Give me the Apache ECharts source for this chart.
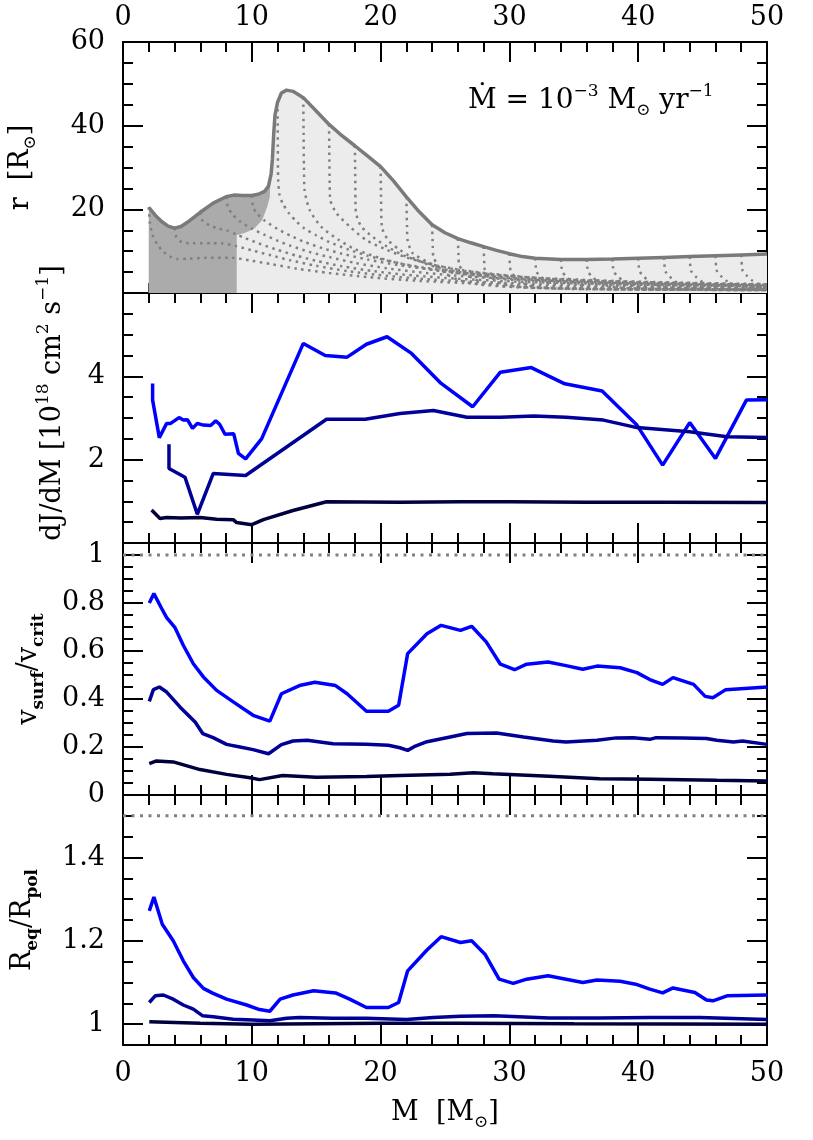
<!DOCTYPE html>
<html>
<head>
<meta charset="utf-8">
<title>Accretion models</title>
<script src="https://cdn.jsdelivr.net/npm/echarts@6/dist/echarts.min.js"></script>
<style>
  html, body { margin: 0; padding: 0; background: #fff; }
  #chart { width: 813px; height: 1140px; }
</style>
</head>
<body>
<div id="chart"></div>
<script>
// tick labels
var massLabels = [0, 10, 20, 30, 40, 50];
var radiusLabels = [20, 40, 60];
var djLabels = [2, 4];
var vLabels = [0, 0.2, 0.4, 0.6, 0.8, 1];
var vTicks = [0, 0.2, 0.4, 0.6, 0.8, 1];
var ratioLabels = [1, 1.2, 1.4];
var ratioTicks = [1, 1.2, 1.4];

// panel 1: stellar surface radius r(M)
var surfaceRadius = [[2, 20.5], [2.5, 18.6], [3, 17.1], [3.5, 16], [4, 15.5], [4.5, 15.9], [5, 16.9], [6, 19.3],
  [7, 21.5], [8, 23], [8.6, 23.4], [9.3, 23.3], [10, 23.3], [10.5, 23.6], [11, 24.3], [11.3, 25.6],
  [11.5, 28.5], [11.6, 32], [11.7, 38], [11.8, 42.5], [12, 45.6], [12.3, 47.8], [12.7, 48.5], [13.2, 48.2],
  [14, 46.7], [15, 43.5], [16, 40.3], [17, 37.6], [18, 35.2], [19, 32.7], [20, 30.2], [21, 26.8], [22, 23],
  [23, 19.4], [24, 16.3], [25, 14.4], [26, 13], [27, 12], [28, 11.1], [29, 10.2], [30, 9.4], [31, 8.7],
  [32, 8.3], [34, 8], [36, 8], [38, 8.1], [40, 8.3], [42, 8.5], [44, 8.7], [46, 8.9], [48, 9.1], [50, 9.3]];

// dark grey core region (outline)
var coreEdge = [[2, 0], [2, 20.5], [2.5, 18.6], [3, 17.1], [3.5, 16], [4, 15.5], [4.5, 15.9], [5, 16.9],
  [6, 19.3], [7, 21.5], [8, 23], [8.6, 23.4], [9.3, 23.3], [10, 23.3], [10.5, 23.6], [11, 24.3],
  [11.3, 25.6], [11.45, 27.5], [11.4, 23], [11.2, 20.6], [10.8, 17.4], [10.2, 15.4], [9.6, 14.5],
  [8.83, 13.8], [8.83, 0]];

// dotted iso-mass lines
var isoMass = [
  [[2, 20.5], [2.1, 16.5], [2.35, 13.4], [2.7, 11.5], [3.05, 10.1], [3.6, 8.8], [4.2, 8.1], [5, 8.2], [6.5, 8.4], [8.4, 8.4], [10, 7.7], [11.5, 6.9], [13.5, 5.8], [16, 4.8], [19, 3.8], [23, 2.9], [28, 2.2], [35, 1.6], [50, 1.1]],
  [[4, 15.5], [4.15, 13.3], [4.6, 12.1], [5.4, 11.9], [6.8, 11.9], [7.6, 11.9], [8.8, 11.2], [10, 10.2], [11.5, 9], [13, 7.8], [15, 6.5], [17.5, 5.2], [20.5, 4.1], [24, 3.2], [29, 2.5], [36, 1.9], [50, 1.4]],
  [[6, 19.3], [6.15, 17.4], [6.7, 16.2], [7.4, 15.4], [8.1, 14.9], [8.8, 14], [9.5, 13.1], [10.5, 11.9], [12, 10.3], [13.5, 8.9], [15, 7.7], [17, 6.4], [19.5, 5.2], [22.5, 4.2], [26, 3.4], [31, 2.7], [38, 2.1], [50, 1.6]],
  [[8, 23], [8.15, 20.6], [8.5, 18.8], [9.1, 17.1], [10, 15.4], [11, 13.9], [12, 12.5], [13, 11.3], [14.5, 9.8], [16, 8.6], [18, 7.2], [20.5, 5.9], [23.5, 4.8], [27, 3.9], [32, 3.1], [39, 2.4], [50, 1.9]],
  [[10, 23.3], [10.1, 20.6], [10.4, 19], [11, 17.3], [12, 15.3], [13, 13.7], [14, 12.3], [15.5, 10.7], [17, 9.4], [19, 8], [21.5, 6.6], [24.5, 5.4], [28, 4.4], [33, 3.5], [40, 2.7], [50, 2.1]],
  [[12, 45.6], [12.02, 35], [12.05, 27], [12.15, 23.5], [12.4, 21.4], [12.9, 19], [13.5, 17], [14.1, 15.4], [15, 13.8], [16, 12.2], [17.5, 10.4], [19, 8.9], [21, 7.4], [23.5, 6], [26.5, 4.9], [30, 4], [35, 3.1], [42, 2.5], [50, 2]],
  [[14, 46.7], [14.02, 38], [14.05, 30], [14.1, 24.6], [14.5, 19.8], [15.4, 15.8], [16.7, 12.8], [18, 10.5], [20, 8.3], [22, 6.7], [24.5, 5.3], [27.5, 4.2], [31, 3.3], [36, 2.6], [43, 2.1], [50, 1.8]],
  [[16, 40.3], [16.02, 32], [16.05, 26], [16.1, 22.2], [16.6, 19], [17.6, 15.9], [18.9, 12.6], [20.5, 10.3], [22, 8.5], [24, 6.8], [26.5, 5.4], [29.5, 4.3], [33, 3.4], [38, 2.7], [44, 2.2], [50, 1.9]],
  [[18, 35.2], [18.03, 28], [18.05, 22], [18.1, 19], [18.5, 15.9], [19.4, 13.4], [20.5, 11.1], [22, 8.7], [24, 6.8], [26.5, 5.3], [29.5, 4.2], [33, 3.3], [38, 2.6], [44, 2.1], [50, 1.8]],
  [[20, 30.2], [20.03, 24], [20.1, 15.8], [20.6, 12.6], [21.5, 10.3], [22.8, 7.9], [24.6, 5.9], [27, 4.6], [30, 3.6], [34, 2.8], [40, 2.2], [50, 1.7]],
  [[22, 23], [22.05, 16], [22.1, 12.6], [22.5, 9.5], [23.6, 7.5], [24.9, 5.5], [27, 4.2], [30, 3.2], [34, 2.5], [40, 1.9], [50, 1.5]],
  [[24, 16.3], [24.05, 11], [24.1, 8.7], [24.5, 6.3], [25.2, 4.3], [26.2, 3], [27.5, 2.1], [30, 1.5], [36, 1.1], [50, 0.8]],
  [[26, 13], [26.05, 9], [26.1, 6.7], [26.5, 5], [27.1, 3.6], [27.9, 2.5], [29.2, 1.7], [32, 1.2], [39, 0.9], [50, 0.7]],
  [[28, 11.1], [28.05, 7], [28.1, 5.5], [28.45, 4.2], [28.9, 3], [29.6, 2], [31, 1.4], [35, 1], [50, 0.7]],
  [[30, 9.4], [30.05, 6.3], [30.12, 5.1], [30.45, 3.9], [30.85, 2.8], [31.4, 1.9], [32.5, 1.3], [36, 0.9], [50, 0.7]],
  [[32, 8.3], [32.05, 6.2], [32.12, 5], [32.45, 3.9], [32.85, 2.8], [33.4, 1.9], [34.5, 1.3], [38, 0.9], [50, 0.7]],
  [[34, 8], [34.05, 6.1], [34.12, 5], [34.45, 3.8], [34.85, 2.8], [35.4, 1.9], [36.5, 1.3], [40, 0.9], [50, 0.75]],
  [[36, 8], [36.05, 6.1], [36.12, 5], [36.45, 3.8], [36.85, 2.8], [37.4, 1.9], [38.5, 1.3], [42, 0.9], [50, 0.75]],
  [[38, 8.1], [38.05, 6.1], [38.12, 5], [38.45, 3.9], [38.85, 2.8], [39.4, 1.9], [40.5, 1.3], [44, 0.9], [50, 0.8]],
  [[40, 8.3], [40.05, 6.2], [40.12, 5.1], [40.45, 3.9], [40.85, 2.8], [41.4, 1.9], [42.5, 1.3], [46, 0.9], [50, 0.8]],
  [[42, 8.5], [42.05, 6.3], [42.12, 5.1], [42.45, 3.9], [42.85, 2.8], [43.4, 1.9], [44.5, 1.3], [48, 0.9], [50, 0.85]],
  [[44, 8.7], [44.05, 6.3], [44.12, 5.2], [44.45, 4], [44.85, 2.9], [45.4, 2], [46.5, 1.4], [50, 1]],
  [[46, 8.9], [46.05, 6.4], [46.12, 5.2], [46.45, 4], [46.85, 2.9], [47.4, 2], [48.5, 1.4], [50, 1.2]],
  [[48, 9.1], [48.05, 6.5], [48.12, 5.3], [48.45, 4.1], [48.85, 3], [49.4, 2.1], [50, 1.7]]
];

// panel 2: dJ/dM
var djFast = [[2.3, 3.83], [2.3, 3.43], [2.82, 2.53], [3.39, 2.87], [3.7, 2.87], [4.35, 3.01], [4.68, 2.95],
  [5.0, 2.96], [5.4, 2.75], [5.77, 2.87], [6.24, 2.83], [6.8, 2.82], [7.2, 2.93], [7.5, 2.85], [7.92, 2.61],
  [8.6, 2.62], [8.96, 2.15], [9.52, 2.02], [10.76, 2.5], [14.0, 4.79], [15.7, 4.5], [17.4, 4.46], [18.9, 4.77],
  [20.5, 4.95], [22.4, 4.55], [24.7, 3.83], [27.15, 3.27], [29.3, 4.1], [31.7, 4.21], [34.3, 3.82], [37.2, 3.65],
  [39.9, 2.83], [41.9, 1.87], [44.0, 2.89], [46.0, 2.03], [48.4, 3.43], [50, 3.44]];
var djMid = [[3.57, 2.37], [3.57, 1.79], [4.81, 1.58], [5.77, 0.69], [7.01, 1.67], [9.52, 1.62], [15.8, 2.97],
  [18.8, 2.97], [21.5, 3.11], [24.1, 3.18], [26.7, 3.02], [29.3, 3.02], [31.9, 3.05], [34.4, 3.02], [37.3, 2.95],
  [39.9, 2.77], [44, 2.67], [46.9, 2.55], [50, 2.53]];
var djSlow = [[2.22, 0.79], [2.87, 0.59], [3.39, 0.61], [4.5, 0.6], [5.98, 0.61], [7.27, 0.57], [8.56, 0.56],
  [8.82, 0.49], [10.0, 0.44], [10.9, 0.56], [13.2, 0.78], [15.8, 0.99], [21.5, 0.98], [26.2, 0.99], [30, 0.99],
  [36, 0.98], [42, 0.98], [50, 0.97]];

// panel 3: v_surf / v_crit
var vFast = [[2.04, 0.8], [2.4, 0.839], [3.0, 0.777], [3.39, 0.739], [4.04, 0.697], [4.68, 0.624], [5.46, 0.547],
  [6.24, 0.492], [7.27, 0.436], [8.56, 0.388], [10.1, 0.332], [11.4, 0.308], [12.3, 0.422], [13.7, 0.456],
  [14.9, 0.47], [16.5, 0.456], [17.4, 0.422], [18.9, 0.349], [20.6, 0.349], [21.4, 0.374], [22.1, 0.589],
  [23.6, 0.672], [24.7, 0.707], [26.2, 0.686], [27.07, 0.703], [28.2, 0.638], [29.3, 0.545], [30.4, 0.522],
  [31.34, 0.545], [33.0, 0.554], [34.3, 0.54], [35.7, 0.524], [36.8, 0.537], [38.6, 0.53], [39.9, 0.51],
  [40.9, 0.481], [41.9, 0.461], [42.7, 0.489], [44.3, 0.461], [45.2, 0.411], [45.8, 0.405], [46.8, 0.439],
  [50, 0.45]];
var vMid = [[2.04, 0.39], [2.36, 0.439], [2.82, 0.45], [3.39, 0.429], [4.42, 0.367], [5.6, 0.304], [6.19, 0.256],
  [7.0, 0.239], [8.04, 0.211], [9.08, 0.2], [10.1, 0.189], [11.3, 0.172], [12.3, 0.21], [13.2, 0.225],
  [14.3, 0.228], [16.3, 0.214], [18.9, 0.211], [20.6, 0.207], [21.5, 0.197], [22.1, 0.186], [22.7, 0.204],
  [23.6, 0.222], [25.4, 0.242], [26.7, 0.256], [29.0, 0.258], [31.1, 0.242], [33.4, 0.225], [34.4, 0.221],
  [36.8, 0.228], [38.3, 0.238], [39.6, 0.239], [40.9, 0.232], [41.4, 0.239], [43.5, 0.238], [45.3, 0.235],
  [46.1, 0.228], [47.4, 0.221], [48.1, 0.225], [50, 0.211]];
var vSlow = [[2.04, 0.131], [2.6, 0.142], [3.9, 0.138], [5.98, 0.106], [8.04, 0.086], [9.86, 0.072], [10.6, 0.064],
  [12.4, 0.081], [15.0, 0.074], [18.9, 0.077], [21.5, 0.081], [25.4, 0.086], [27.2, 0.093], [28.7, 0.089],
  [33.1, 0.078], [37, 0.068], [40.9, 0.066], [46.1, 0.061], [50, 0.058]];
var vCritLine = [[0, 1], [50, 1]];

// panel 4: R_eq / R_pol
var ratioFast = [[2.04, 1.272], [2.4, 1.305], [3.05, 1.24], [3.9, 1.2], [4.68, 1.152], [5.46, 1.112], [6.24, 1.086],
  [7.0, 1.074], [8.04, 1.06], [9.6, 1.046], [10.6, 1.035], [11.4, 1.031], [12.2, 1.06], [13.2, 1.07], [14.8, 1.08],
  [16.5, 1.075], [17.6, 1.06], [18.9, 1.04], [20.6, 1.04], [21.4, 1.052], [22.1, 1.128], [23.6, 1.178], [24.7, 1.21],
  [26.2, 1.196], [27.07, 1.2], [28.1, 1.168], [29.2, 1.108], [30.3, 1.098], [31.34, 1.108], [33.0, 1.116],
  [34.4, 1.108], [35.7, 1.1], [36.8, 1.106], [38.6, 1.103], [39.8, 1.096], [40.9, 1.084], [41.9, 1.075],
  [42.7, 1.087], [44.4, 1.076], [45.3, 1.058], [45.8, 1.056], [46.9, 1.068], [50, 1.07]];
var ratioMid = [[2.04, 1.052], [2.5, 1.068], [3.13, 1.07], [3.9, 1.06], [4.68, 1.046], [5.46, 1.036], [6.19, 1.02],
  [7.0, 1.018], [8.56, 1.012], [10.1, 1.01], [11.4, 1.008], [12.7, 1.014], [13.7, 1.016], [16.3, 1.014],
  [18.9, 1.014], [22.0, 1.011], [24.1, 1.016], [26.2, 1.019], [28.8, 1.02], [33.1, 1.015], [37, 1.015],
  [40.9, 1.016], [44.8, 1.016], [50, 1.011]];
var ratioSlow = [[2.04, 1.006], [6, 1.002], [10, 1.0], [20, 1.002], [26, 1.002], [35, 1.001], [50, 1.0]];
var ratioLimitLine = [[0, 1.5], [50, 1.5]];

var serif = 'DejaVu Serif';
var fontMain = 27;
var blueFast = '#0000ff', blueMid = '#000096', blueSlow = '#00003c';
var gridTops = [42, 293, 543, 795];
var gridHeights = [251, 250, 252, 250];

var rich = {
    sup: {fontSize: 17, fontFamily: serif, color: '#000', lineHeight: 18, verticalAlign: 'top'},
    sub: {fontSize: 17, fontFamily: serif, color: '#000', lineHeight: 18, verticalAlign: 'bottom'},
    bsub: {fontSize: 17, fontFamily: serif, fontWeight: 'bold', color: '#000', lineHeight: 18, verticalAlign: 'bottom'}
};

var chart = echarts.init(document.getElementById('chart'));

var lineStyleBlack = {color: '#000', width: 2};

//x轴
var makeX = function (g, top) {
    var ax = {
        type: 'value', gridIndex: g, min: 0, max: 50, interval: 10,
        position: top ? 'top' : 'bottom',
        axisLine: {show: true, onZero: false, lineStyle: lineStyleBlack},
        axisTick: {show: true, inside: true, length: 20, lineStyle: lineStyleBlack},
        minorTick: {show: true, splitNumber: 5, length: 10, lineStyle: lineStyleBlack},
        splitLine: {show: false},
        axisLabel: {show: false}
    };
    if ((top && g === 0) || (!top && g === 3)) {
        ax.axisLabel = {
            show: true, customValues: massLabels, margin: top ? 11 : 15,
            fontSize: fontMain, fontFamily: serif, color: '#000'
        };
    }
    if (!top && g === 3) {
        ax.name = 'M  [M{sub|⊙}]';
        ax.nameLocation = 'middle';
        ax.nameGap = 50;
        ax.nameTextStyle = {fontSize: fontMain, fontFamily: serif, color: '#000', lineHeight: 36, rich: rich};
    }
    return ax;
};

//y轴
var makeY = function (g, right, cfg) {
    var ax = {
        type: 'value', gridIndex: g, min: cfg.min, max: cfg.max,
        position: right ? 'right' : 'left',
        axisLine: {show: !cfg.minorOnly, onZero: false, lineStyle: lineStyleBlack},
        axisTick: {show: true, inside: true, length: cfg.tickLen || 20, lineStyle: lineStyleBlack},
        splitLine: {show: false},
        axisLabel: {show: false}
    };
    if (cfg.interval) ax.interval = cfg.interval;
    if (cfg.ticks) ax.axisTick.customValues = cfg.ticks;
    if (cfg.minor) ax.minorTick = {show: true, splitNumber: cfg.minor, length: 10, lineStyle: lineStyleBlack};
    if (!right && cfg.labels) {
        ax.axisLabel = {show: true, customValues: cfg.labels, margin: 18, fontSize: fontMain, fontFamily: serif, color: '#000'};
        ax.name = cfg.name;
        ax.nameLocation = 'middle';
        ax.nameGap = cfg.nameGap;
        ax.nameTextStyle = {fontSize: fontMain, fontFamily: serif, color: '#000', lineHeight: 36, rich: rich,
            padding: cfg.namePad || 0};
    }
    return ax;
};

var grids = [], xAxes = [], yAxes = [];
for (var g = 0; g < 4; g++) {
    grids.push({left: 123, width: 644, top: gridTops[g], height: gridHeights[g], outerBoundsMode: 'none'});
    xAxes.push(makeX(g, false));
    xAxes.push(makeX(g, true));
}
// yAxis 0,1
yAxes.push(makeY(0, false, {min: 0, max: 60, interval: 20, minor: 4, labels: radiusLabels, name: 'r  [R{sub|⊙}]', nameGap: 84}));
yAxes.push(makeY(0, true, {min: 0, max: 60, interval: 20, minor: 4}));
// yAxis 2,3
yAxes.push(makeY(1, false, {min: 0, max: 6, interval: 2, minor: 4, labels: djLabels,
    name: 'dJ/dM [10{sup|18} cm{sup|2} s{sup|−1}]', nameGap: 52, namePad: [0, 0, 0, 30]}));
yAxes.push(makeY(1, true, {min: 0, max: 6, interval: 2, minor: 4}));
// yAxis 4..7
yAxes.push(makeY(2, false, {min: 0, max: 1.05, ticks: vTicks, labels: vLabels,
    name: 'v{bsub|surf}/v{bsub|crit}', nameGap: 76}));
yAxes.push(makeY(2, true, {min: 0, max: 1.05, ticks: vTicks}));
yAxes.push(makeY(2, false, {min: 0, max: 1.05, interval: 0.05, tickLen: 10, minorOnly: true}));
yAxes.push(makeY(2, true, {min: 0, max: 1.05, interval: 0.05, tickLen: 10, minorOnly: true}));
// yAxis 8..11
yAxes.push(makeY(3, false, {min: 0.95, max: 1.55, ticks: ratioTicks, labels: ratioLabels,
    name: 'R{bsub|eq}/R{bsub|pol}', nameGap: 82}));
yAxes.push(makeY(3, true, {min: 0.95, max: 1.55, ticks: ratioTicks}));
yAxes.push(makeY(3, false, {min: 0.95, max: 1.55, interval: 0.05, tickLen: 10, minorOnly: true}));
yAxes.push(makeY(3, true, {min: 0.95, max: 1.55, interval: 0.05, tickLen: 10, minorOnly: true}));

var lineSeries = function (data, xi, yi, color, width, z) {
    return {
        type: 'line', data: data, xAxisIndex: xi, yAxisIndex: yi, showSymbol: false, symbol: 'none',
        lineStyle: {color: color, width: width}, z: z || 5, silent: true
    };
};

var dotted = function (data, xi, yi, width, dash) {
    var s = lineSeries(data, xi, yi, '#808080', width, 3);
    s.lineStyle.type = dash;
    s.lineStyle.cap = 'butt';
    return s;
};

var series = [];
// 面积
series.push({
    type: 'line', data: surfaceRadius, xAxisIndex: 0, yAxisIndex: 0, showSymbol: false, symbol: 'none',
    lineStyle: {width: 0}, areaStyle: {color: '#ececec', opacity: 1}, z: 1, silent: true
});
series.push({
    type: 'custom', xAxisIndex: 0, yAxisIndex: 0, data: coreEdge, z: 2, silent: true,
    encode: {x: 0, y: 1},
    renderItem: function (params, api) {
        if (params.dataIndex !== 0) return null;
        var pts = coreEdge.map(function (p) { return api.coord(p); });
        return {type: 'polygon', shape: {points: pts}, style: {fill: '#ababab'}};
    }
});
isoMass.forEach(function (curve) {
    var s = dotted(curve, 0, 0, 2.5, [2.5, 4.5]);
    s.smooth = 0.25;
    series.push(s);
});
series.push(lineSeries(surfaceRadius, 0, 0, '#7a7a7a', 3.5, 6));

series.push(lineSeries(djFast, 2, 2, blueFast, 3.5));
series.push(lineSeries(djMid, 2, 2, blueMid, 3.5));
series.push(lineSeries(djSlow, 2, 2, blueSlow, 3.5));

series.push(dotted(vCritLine, 4, 4, 3, [3, 5.5]));
series.push(lineSeries(vFast, 4, 4, blueFast, 3.5));
series.push(lineSeries(vMid, 4, 4, blueMid, 3.5));
series.push(lineSeries(vSlow, 4, 4, blueSlow, 3.5));

series.push(dotted(ratioLimitLine, 6, 8, 3, [3, 5.5]));
series.push(lineSeries(ratioFast, 6, 8, blueFast, 3.5));
series.push(lineSeries(ratioMid, 6, 8, blueMid, 3.5));
series.push(lineSeries(ratioSlow, 6, 8, blueSlow, 3.5));

var option = {
    animation: false,
    backgroundColor: '#fff',
    textStyle: {fontFamily: serif},
    grid: grids,
    xAxis: xAxes,
    yAxis: yAxes,
    series: series,
    graphic: [{
        type: 'text', left: 468, top: 83, silent: true,
        style: {
            text: 'Ṁ = 10{sup|−3} M{sub|⊙} yr{sup|−1}',
            fontSize: 28, fontFamily: serif, fill: '#000', lineHeight: 36,
            rich: {
                sup: {fontSize: 17, fontFamily: serif, fill: '#000', lineHeight: 18, verticalAlign: 'top'},
                sub: {fontSize: 17, fontFamily: serif, fill: '#000', lineHeight: 18, verticalAlign: 'bottom'}
            }
        }
    }]
};

chart.setOption(option);
</script>
</body>
</html>
